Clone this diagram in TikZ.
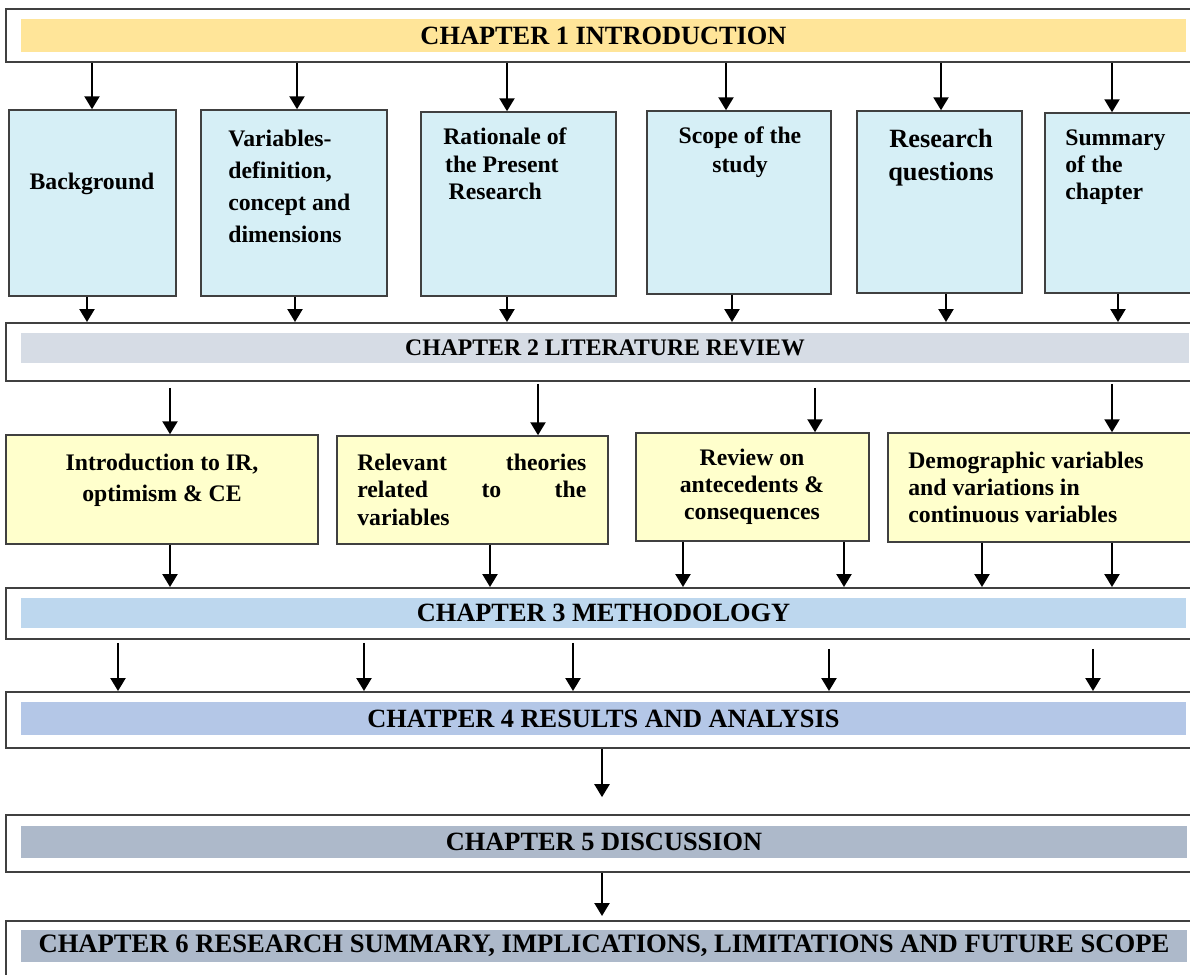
\documentclass[tikz,border=0pt]{standalone}
\usepackage{fontspec}
\setmainfont{Liberation Serif}
\usetikzlibrary{positioning,fit,arrows.meta}
\definecolor{chone}{HTML}{FFE599}
\definecolor{chtwo}{HTML}{D6DCE5}
\definecolor{chthree}{HTML}{BDD7EE}
\definecolor{chfour}{HTML}{B4C7E7}
\definecolor{chfive}{HTML}{ADB9CA}
\definecolor{boxblue}{HTML}{D6EFF6}
\definecolor{boxyellow}{HTML}{FFFFCC}
\tikzstyle{chap} = [rectangle, draw=black!75, line width=1.1pt, inner sep=0pt]
\tikzstyle{band} = [rectangle, inner sep=0pt]
\tikzstyle{title} = [inner sep=0pt, font=\fontsize{15}{18}\selectfont\bfseries]
\tikzstyle{cbox} = [rectangle, draw=black!75, line width=0.85pt, fill=boxblue, inner sep=0pt]
\tikzstyle{ybox} = [cbox, fill=boxyellow]
\tikzstyle{txt} = [inner sep=0pt, font=\fontsize{13.5}{15.3}\selectfont\bfseries]
\tikzstyle{arr} = [-{Triangle[width=8.5pt,length=7.4pt]}, line width=1.4pt]

\begin{document}
\begin{tikzpicture}[x=0.02cm, y=-0.02cm]
        \useasboundingbox (0,0) rectangle (1190,974);
        \clip (0,0) rectangle (1190,974);

        \node [chap, fit={(6,9) (1215,62)}] (ch1) {};
        \node [band, fill=chone, fit={(21,19) (1186,52)}] (ch1b) {};
        \node [title] (ch1t) at (ch1b.center) {CHAPTER 1 INTRODUCTION};
        \node [chap, fit={(6,323) (1215,381)}] (ch2) {};
        \node [band, fill=chtwo, fit={(21,333) (1189,363)}] (ch2b) {};
        \node [title, font=\fontsize{13.5}{16}\selectfont\bfseries] (ch2t) at (ch2b.center) {CHAPTER 2 LITERATURE REVIEW};
        \node [chap, fit={(6,588) (1215,639)}] (ch3) {};
        \node [band, fill=chthree, fit={(21,598) (1186,628)}] (ch3b) {};
        \node [title] (ch3t) at (ch3b.center) {CHAPTER 3 METHODOLOGY};
        \node [chap, fit={(6,692) (1215,748)}] (ch4) {};
        \node [band, fill=chfour, fit={(21,702) (1186,735)}] (ch4b) {};
        \node [title] (ch4t) at (ch4b.center) {CHATPER 4 RESULTS AND ANALYSIS};
        \node [chap, fit={(6,815) (1215,872)}] (ch5) {};
        \node [band, fill=chfive, fit={(21,826) (1187,858)}] (ch5b) {};
        \node [title] (ch5t) at (ch5b.center) {CHAPTER 5 DISCUSSION};
        \node [chap, fit={(6,921) (1215,995)}] (ch6) {};
        \node [band, fill=chfive, fit={(21,930) (1187,962)}] (ch6b) {};
        \node [title, font=\fontsize{15.15}{18}\selectfont\bfseries] (ch6t) at (ch6b.center) {CHAPTER 6 RESEARCH SUMMARY, IMPLICATIONS, LIMITATIONS AND FUTURE SCOPE};

        \node [cbox, fit={(9,110) (176,296)}] (bg) {};
        \node [txt] (bgt) at (92,184) {Background};
        \node [cbox, fit={(201,110) (387,296)}] (var) {};
        \node [txt, anchor=west, align=left, font=\fontsize{13.5}{18.1}\selectfont\bfseries] (vart) at (228,186.5) {Variables-\\definition,\\concept and\\dimensions};
        \node [cbox, fit={(421,112) (616,296)}] (rat) {};
        \node [txt, anchor=west, align=left, font=\fontsize{13.5}{15.6}\selectfont\bfseries] (ratt) at (443,164) {Rationale of\\\hspace{1pt}the Present\\\hspace{3pt}Research};
        \node [cbox, fit={(647,111) (831,294)}] (scope) {};
        \node [txt, align=center, font=\fontsize{13.5}{16.4}\selectfont\bfseries] (scopet) at (740,152.5) {Scope of the\\study};
        \node [cbox, fit={(857,111) (1022,293)}] (rq) {};
        \node [txt, align=center, font=\fontsize{15}{18.7}\selectfont\bfseries] (rqt) at (941,157.5) {Research\\questions};
        \node [cbox, fit={(1045,113) (1215,293)}] (sum) {};
        \node [txt, anchor=west, align=left] (sumt) at (1065,167) {Summary\\of the\\chapter};

        \node [ybox, fit={(6,435) (318,544)}] (intro) {};
        \node [txt, align=center, font=\fontsize{13.5}{17.6}\selectfont\bfseries] (introt) at (162,480.5) {Introduction to IR,\\optimism \& CE};
        \node [ybox, fit={(337,436) (608,544)}] (rel) {};
        \node [txt, anchor=west, align=left, text width=4.58cm, font=\fontsize{13.5}{15.6}\selectfont\bfseries] (relt) at (357,489.5) {Relevant\hfill theories\\related\hfill to\hfill the\\variables};
        \node [ybox, fit={(636,433) (869,541)}] (rev) {};
        \node [txt, align=center] (revt) at (752,487) {Review on\\antecedents \&\\consequences};
        \node [ybox, fit={(888,433) (1215,542)}] (demo) {};
        \node [txt, anchor=west, align=left, font=\fontsize{13.5}{15.5}\selectfont\bfseries] (demot) at (908,487.5) {Demographic variables\\and variations in\\continuous variables};

        \foreach \x/\n in {92/bg, 297/var, 507/rat, 726/scope, 941/rq, 1112/sum}
          \draw [arr] (\x,0 |- ch1.south) -- (\x,0 |- \n.north);
        \foreach \x/\n in {87/bg, 295/var, 507/rat, 732/scope, 946/rq, 1118/sum}
          \draw [arr] (\x,0 |- \n.south) -- (\x,0 |- ch2.north);
        \foreach \x/\n/\s in {170/intro/3.4, 538/rel/1.1, 815/rev/3.4, 1112/demo/1.1}
          \draw [arr, shorten <=\s pt] (\x,0 |- ch2.south) -- (\x,0 |- \n.north);
        \foreach \x/\n in {170/intro, 490/rel, 683/rev, 844/rev, 982/demo, 1112/demo}
          \draw [arr] (\x,0 |- \n.south) -- (\x,0 |- ch3.north);
        \foreach \x/\s in {118/1.7, 364/1.7, 573/1.7, 829/5.1, 1093/5.1}
          \draw [arr, shorten <=\s pt] (\x,0 |- ch3.south) -- (\x,0 |- ch4.north);
        \draw [arr, shorten >=9.6pt] (602,0 |- ch4.south) -- (602,0 |- ch5.north);
        \draw [arr, shorten >=2.3pt] (602,0 |- ch5.south) -- (602,0 |- ch6.north);
\end{tikzpicture}
\end{document}
